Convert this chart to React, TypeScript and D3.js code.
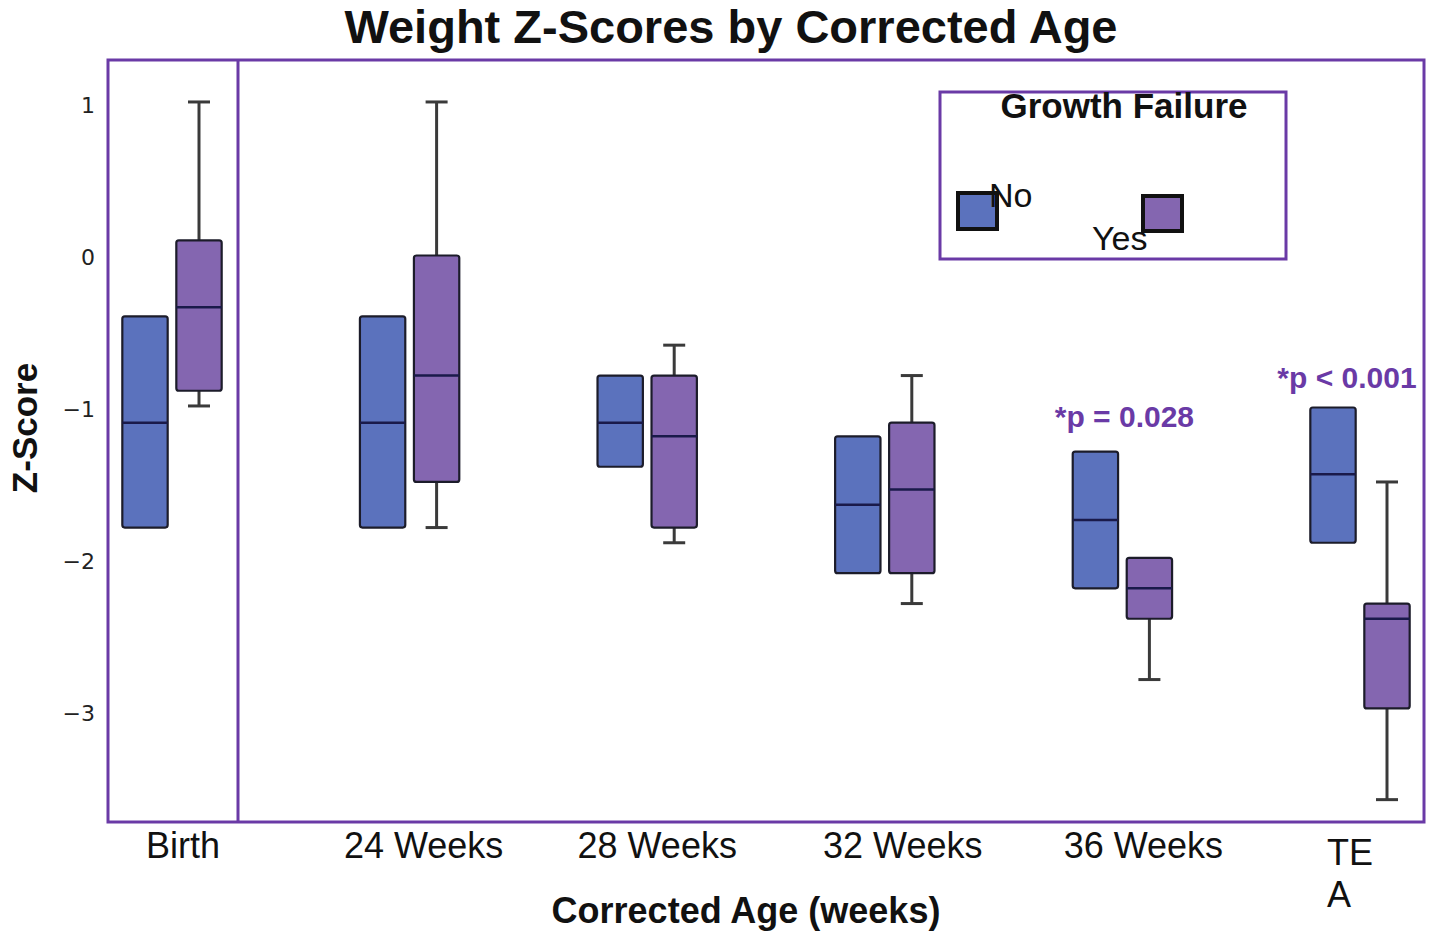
import React from "react";
import * as d3 from "d3";

const categories = ["Birth", "24 Weeks", "28 Weeks", "32 Weeks", "36 Weeks", "TEA"];
const groups = ["No", "Yes"];
// [whiskerLow, q1, median, q3, whiskerHigh] ; null whisker = none
const noStats: (number | null)[][] = [
  [null, -1.78, -1.09, -0.39, null],
  [null, -1.78, -1.09, -0.39, null],
  [null, -1.38, -1.09, -0.78, null],
  [null, -2.08, -1.63, -1.18, null],
  [null, -2.18, -1.73, -1.28, null],
  [null, -1.88, -1.43, -0.99, null],
];
const yesStats: (number | null)[][] = [
  [-0.98, -0.88, -0.33, 0.11, 1.02],
  [-1.78, -1.48, -0.78, 0.01, 1.02],
  [-1.88, -1.78, -1.18, -0.78, -0.58],
  [-2.28, -2.08, -1.53, -1.09, -0.78],
  [-2.78, -2.38, -2.18, -1.98, null],
  [-3.57, -2.97, -2.38, -2.28, -1.48],
];
const yTicks = [1, 0, -1, -2, -3];
const annotations = [
  { cat: "36 Weeks", text: "*p = 0.028", v: -1.12 },
  { cat: "TEA", text: "*p < 0.001", v: -0.86 },
];

const W = 1433;
const H = 933;
const frame = { left: 108, right: 1424, top: 60, bottom: 822 };
const blue = "#5b72bd";
const purple = "#8466b0";
const framePurple = "#6a3aa6";
const fillOf: Record<string, string> = { No: blue, Yes: purple };
const labelShift: Record<string, number> = { Birth: 11, "24 Weeks": 14, "28 Weeks": 10, "32 Weeks": 18, "36 Weeks": 21 };

export default function App() {
  const x = d3.scalePoint<string>().domain(categories).range([172, 1360]);
  const sub = d3.scaleBand<string>().domain(groups).range([-54, 54]).paddingInner(0.16).paddingOuter(0.08);
  const y = d3.scaleLinear().domain([1, -3]).range([105, 713]);
  const bw = sub.bandwidth();
  const series: Record<string, (number | null)[][]> = { No: noStats, Yes: yesStats };
  const divider = (x("Birth") as number) + 66;
  const sans = "'Liberation Sans', Arial, sans-serif";

  const boxes: React.ReactNode[] = [];
  groups.forEach((g) => {
    series[g].forEach((s, i) => {
      const cx = (x(categories[i]) as number) + (sub(g) as number) + bw / 2;
      const x0 = cx - bw / 2;
      const [lo, q1, med, q3, hi] = s;
      const els: React.ReactNode[] = [];
      if (hi !== null) {
        els.push(<line key="wh" x1={cx} x2={cx} y1={y(hi)} y2={y(q3 as number)} stroke="#3a3a3a" strokeWidth={3} />);
        els.push(<line key="ch" x1={cx - 11} x2={cx + 11} y1={y(hi)} y2={y(hi)} stroke="#3a3a3a" strokeWidth={3} />);
      }
      if (lo !== null) {
        els.push(<line key="wl" x1={cx} x2={cx} y1={y(lo)} y2={y(q1 as number)} stroke="#3a3a3a" strokeWidth={3} />);
        els.push(<line key="cl" x1={cx - 11} x2={cx + 11} y1={y(lo)} y2={y(lo)} stroke="#3a3a3a" strokeWidth={3} />);
      }
      els.push(
        <rect key="b" x={x0} y={y(q3 as number)} width={bw} height={y(q1 as number) - y(q3 as number)}
          fill={fillOf[g]} stroke="#1c1c2a" strokeWidth={2.2} rx={2.5} />
      );
      els.push(<line key="m" x1={x0} x2={x0 + bw} y1={y(med as number)} y2={y(med as number)} stroke="#1a1a4a" strokeWidth={2.5} />);
      boxes.push(<g key={g + i}>{els}</g>);
    });
  });

  return (
    <svg width={W} height={H} style={{ position: "absolute", left: 0, top: 0, background: "#fff" }}>
      <rect x={0} y={0} width={W} height={H} fill="#fff" />
      <text x={731} y={43} textAnchor="middle" fontFamily={sans} fontWeight="bold" fontSize={47} fill="#111">
        Weight Z-Scores by Corrected Age
      </text>
      {/* frame */}
      <rect x={frame.left} y={frame.top} width={frame.right - frame.left} height={frame.bottom - frame.top}
        fill="none" stroke={framePurple} strokeWidth={3} />
      <line x1={divider} x2={divider} y1={frame.top} y2={frame.bottom} stroke={framePurple} strokeWidth={3} />
      {/* y ticks */}
      {yTicks.map((t) => (
        <text key={t} x={95} y={y(t) + 8} textAnchor="end" fontFamily="'DejaVu Sans', Verdana, sans-serif" fontSize={22} fill="#222">
          {t < 0 ? "\u2212" + Math.abs(t) : String(t)}
        </text>
      ))}
      <text transform={`translate(37,428) rotate(-90)`} textAnchor="middle" fontFamily={sans} fontWeight="bold" fontSize={35} fill="#111">
        Z-Score
      </text>
      {boxes}
      {/* x labels */}
      {categories.map((c) =>
        c === "TEA" ? (
          <g key={c}>
            <text x={(x(c) as number) - 33} y={865} fontFamily={sans} fontSize={36} fill="#111">TE</text>
            <text x={(x(c) as number) - 33} y={907} fontFamily={sans} fontSize={36} fill="#111">A</text>
          </g>
        ) : (
          <text key={c} x={(x(c) as number) + labelShift[c]} y={858} textAnchor="middle" fontFamily={sans} fontSize={36} fill="#111">
            {c}
          </text>
        )
      )}
      <text x={746} y={923} textAnchor="middle" fontFamily={sans} fontWeight="bold" fontSize={36} fill="#111">
        Corrected Age (weeks)
      </text>
      {/* annotations */}
      {annotations.map((a) => (
        <text key={a.text} x={(x(a.cat) as number) + (a.cat === "TEA" ? -13 : 2)} y={y(a.v)} textAnchor="middle"
          fontFamily={sans} fontWeight="bold" fontSize={30} fill={framePurple}>
          {a.text}
        </text>
      ))}
      {/* legend */}
      <rect x={940} y={92} width={346} height={167} fill="#fff" stroke={framePurple} strokeWidth={3} />
      <text x={1124} y={118} textAnchor="middle" fontFamily={sans} fontWeight="bold" fontSize={35} fill="#111">
        Growth Failure
      </text>
      <rect x={958} y={193} width={39} height={36} fill={blue} stroke="#111" strokeWidth={4} />
      <text x={989} y={207} fontFamily={sans} fontSize={34} fill="#111">No</text>
      <text x={1092} y={250} fontFamily={sans} fontSize={34} fill="#111">Yes</text>
      <rect x={1143} y={196} width={39} height={35} fill={purple} stroke="#111" strokeWidth={4} />
    </svg>
  );
}
